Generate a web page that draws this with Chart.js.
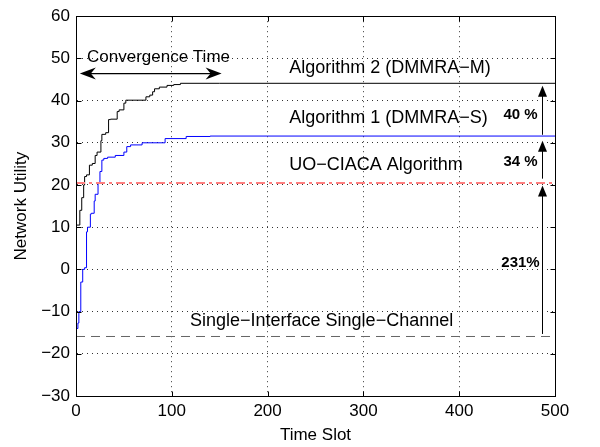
<!DOCTYPE html>
<html>
<head>
<meta charset="utf-8">
<script src="https://cdn.jsdelivr.net/npm/chart.js@4.4.1/dist/chart.umd.min.js"></script>
<style>
  body { margin: 0; background: #fff; }
  #wrap { width: 600px; height: 447px; }
</style>
</head>
<body>
<div id="wrap"><canvas id="chart" width="600" height="447"></canvas></div>
<script>
// Algoritmi 2 (DMMRA-M): portaat, aika -> arvo
const alg2Time = [0, 4, 6, 8, 9, 11, 14, 17, 20, 22, 26, 27, 31, 34, 36, 43, 45, 50, 52, 73, 77, 80, 82, 87, 95, 102, 109, 150, 500];
const alg2Util = [8, 10.5, 14, 17, 20, 22, 22.4, 24.7, 25.1, 27, 27.8, 30.5, 32, 32.4, 35.5, 35.6, 37.4, 37.8, 39.4, 40.1, 40.9, 41.3, 42.1, 42.8, 43.2, 43.6, 43.8, 44.1, 44.1];

// Algoritmi 1 (DMMRA-S)
const alg1Time = [0, 2, 3, 5, 7, 9, 11, 12, 15, 16, 19, 20, 23, 25, 27, 29, 33, 41, 50, 53, 57, 69, 93, 115, 140, 200, 500];
const alg1Util = [-18, -14, -12.7, -10, -3, 0, 0.4, 8.9, 10, 13.1, 13.3, 16.2, 17.8, 20.5, 23.2, 25.9, 26.3, 26.6, 27, 27.8, 29.1, 29.5, 30, 31, 31.5, 31.6, 31.6];

// vaakaviivat
const refTime = [0, 500];
const uoCiacaUtil = [20.5, 20.5];
const sisChUtil = [-15.9, -15.9];

// akselit
const xTicks = [0, 100, 200, 300, 400, 500];
const yTicks = [-30, -20, -10, 0, 10, 20, 30, 40, 50, 60];

const FONT = '"Liberation Sans", Arial, Helvetica, sans-serif';

const toXY = (ts, vs) => ts.map((t, i) => ({ x: t, y: vs[i] }));

// nuolenkärki (MATLAB-tyylinen, kovera takaosa)
const arrowHead = (ctx, x, y, dx, dy, len, half, notch) => {
  const nx = -dy, ny = dx;
  const bx = x - dx * len, by = y - dy * len;
  ctx.beginPath();
  ctx.moveTo(x, y);
  ctx.lineTo(bx + nx * half, by + ny * half);
  ctx.lineTo(x - dx * (len - notch), y - dy * (len - notch));
  ctx.lineTo(bx - nx * half, by - ny * half);
  ctx.closePath();
  ctx.fill();
};

const extras = {
  id: 'extras',
  afterDatasetsDraw(chart) {
    const { ctx, chartArea: a } = chart;
    const xs = chart.scales.x, ys = chart.scales.y;
    const px = (t) => xs.getPixelForValue(t);
    const py = (v) => ys.getPixelForValue(v);
    ctx.save();

    // laatikko + sisäänpäin olevat tikit
    ctx.strokeStyle = '#000';
    ctx.lineWidth = 1;
    const L = Math.round(a.left) + 0.5, R = Math.round(a.right) + 0.5;
    const T = Math.round(a.top) + 0.5, B = Math.round(a.bottom) + 0.5;
    ctx.strokeRect(L, T, R - L, B - T);
    ctx.beginPath();
    xTicks.forEach((t) => {
      const x = Math.round(px(t)) + 0.5;
      ctx.moveTo(x, B); ctx.lineTo(x, B - 5);
      ctx.moveTo(x, T); ctx.lineTo(x, T + 5);
    });
    yTicks.forEach((v) => {
      const y = Math.round(py(v)) + 0.5;
      ctx.moveTo(L, y); ctx.lineTo(L + 5, y);
      ctx.moveTo(R, y); ctx.lineTo(R - 5, y);
    });
    ctx.stroke();

    // tekstit
    ctx.fillStyle = '#000';
    ctx.textBaseline = 'middle';
    ctx.textAlign = 'left';
    ctx.font = '17px ' + FONT;
    ctx.fillText('Convergence Time', px(11.5), py(50.2));
    ctx.font = '18px ' + FONT;
    ctx.fillText('Algorithm 2 (DMMRA\u2212M)', px(222.5), py(47.8));
    ctx.fillText('Algorithm 1 (DMMRA\u2212S)', px(222.5), py(35.8));
    ctx.fillText('UO\u2212CIACA Algorithm', px(222.5), py(24.7));
    ctx.fillText('Single\u2212Interface Single\u2212Channel', px(119), py(-12.3));

    ctx.font = 'bold 15px ' + FONT;
    ctx.textAlign = 'center';
    ctx.fillText('40 %', px(464), py(36.7));
    ctx.fillText('34 %', px(464), py(25.6));
    ctx.fillText('231%', px(464), py(1.6));

    // konvergenssinuoli
    const cy = py(46.4);
    const cx1 = px(4), cx2 = px(152);
    ctx.lineWidth = 1.3;
    ctx.beginPath();
    ctx.moveTo(cx1 + 8, cy); ctx.lineTo(cx2 - 8, cy);
    ctx.stroke();
    arrowHead(ctx, cx1, cy, -1, 0, 16, 6, 5);
    arrowHead(ctx, cx2, cy, 1, 0, 16, 6, 5);

    // pystynuolet
    const ax = Math.round(px(486)) + 0.5;
    ctx.lineWidth = 1;
    [[31.9, 43.5], [21.5, 30.5], [-15.3, 19.9]].forEach(([from, to]) => {
      const y1 = py(from), y2 = py(to);
      ctx.beginPath();
      ctx.moveTo(ax, y1); ctx.lineTo(ax, y2 + 6);
      ctx.stroke();
      arrowHead(ctx, ax, y2, 0, -1, 11, 4.5, 0);
    });

    ctx.restore();
  },
};

const ctx = document.getElementById('chart');

new Chart(ctx, {
  type: 'line',
  data: {
    datasets: [
      {
        label: 'Single-Interface Single-Channel',
        data: toXY(refTime, sisChUtil),
        borderColor: '#666666',
        borderWidth: 1,
        borderDash: [9, 6],
        pointRadius: 0,
      },
      {
        label: 'UO-CIACA',
        data: toXY(refTime, uoCiacaUtil),
        borderColor: '#ff8080',
        borderWidth: 2,
        borderDash: [9, 4, 3, 4],
        pointRadius: 0,
      },
      {
        label: 'Algorithm 1 (DMMRA-S)',
        data: toXY(alg1Time, alg1Util),
        borderColor: '#0000ff',
        borderWidth: 1,
        stepped: 'after',
        pointRadius: 0,
      },
      {
        label: 'Algorithm 2 (DMMRA-M)',
        data: toXY(alg2Time, alg2Util),
        borderColor: '#000000',
        borderWidth: 1,
        stepped: 'after',
        pointRadius: 0,
      },
    ],
  },
  options: {
    responsive: false,
    animation: false,
    layout: { padding: { top: 7, right: 45, left: 0, bottom: 0 } },
    plugins: { legend: { display: false }, tooltip: { enabled: false } },
    scales: {
      x: {
        type: 'linear',
        min: 0,
        max: 500,
        afterFit: (s) => { s.height = 51; },
        afterBuildTicks: (s) => { s.ticks = xTicks.map((v) => ({ value: v })); },
        ticks: { color: '#000', font: { family: FONT, size: 17 }, padding: 5, maxRotation: 0 },
        grid: { color: 'rgba(0,0,0,0.8)', lineWidth: 1, drawTicks: false },
        border: { display: true, color: '#000', dash: [1, 4] },
        title: {
          display: true,
          text: 'Time Slot',
          color: '#000',
          font: { family: FONT, size: 17 },
          padding: { top: 0, bottom: 1 },
        },
      },
      y: {
        min: -30,
        max: 60,
        afterFit: (s) => { s.width = 76; },
        afterBuildTicks: (s) => { s.ticks = yTicks.map((v) => ({ value: v })); },
        ticks: {
          color: '#000',
          font: { family: FONT, size: 17 },
          padding: 6,
          callback: (v) => String(v).replace('-', '\u2212'),
        },
        grid: { color: 'rgba(0,0,0,0.8)', lineWidth: 1, drawTicks: false },
        border: { display: true, color: '#000', dash: [1, 4] },
        title: {
          display: true,
          text: 'Network Utility',
          color: '#000',
          font: { family: FONT, size: 17 },
          padding: { top: 11, bottom: 0 },
        },
      },
    },
  },
  plugins: [extras],
});
</script>
</body>
</html>
